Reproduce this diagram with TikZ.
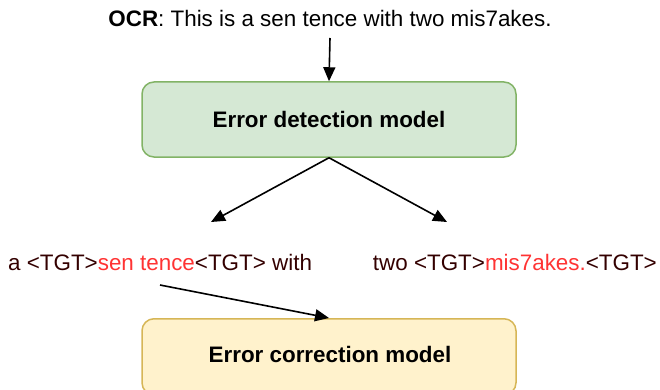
\documentclass[tikz,border=0pt]{standalone}
\usepackage{fontspec}
\setmainfont{Liberation Sans}
\usetikzlibrary{arrows.meta}
\definecolor{detfill}{HTML}{D5E8D4}
\definecolor{detline}{HTML}{82B366}
\definecolor{corfill}{HTML}{FFF2CC}
\definecolor{corline}{HTML}{D6B656}
\definecolor{errred}{HTML}{FF3333}
\definecolor{darktxt}{HTML}{330000}
\tikzset{
  model/.style={draw, line width=1.5pt, rounded corners=12pt, minimum width=374pt,
    font=\fontsize{22.4}{26}\selectfont\bfseries, inner sep=0pt},
  plain/.style={font=\fontsize{22.4}{26}\selectfont, inner sep=0pt},
  flow/.style={line width=1.6pt, -{Triangle[length=14pt,width=12pt]}}
}
\begin{document}
\begin{tikzpicture}[x=1pt,y=-1pt]
  \useasboundingbox (0,0) rectangle (660,390);
  \node[plain] (ocr) at (330,18) {\textbf{OCR}: This is a sen tence with two mis7akes.};
  \coordinate (ocrend) at (330,38);
  \node[model, fill=detfill, draw=detline, minimum height=75pt] (det) at (329,119.5) {Error detection model};
  \coordinate (tipL) at (211,222);
  \coordinate (tipR) at (447,222);
  \node[plain, text=darktxt, anchor=west] (left) at (8,262) {a <TGT>\textcolor{errred}{sen tence}<TGT> with};
  \node[plain, text=darktxt, anchor=east] (right) at (657,262) {two <TGT>\textcolor{errred}{mis7akes.}<TGT>};
  \node[model, fill=corfill, draw=corline, minimum height=76pt, anchor=north] (cor) at (329,318) {};
  \node[font=\fontsize{22.4}{26}\selectfont\bfseries] (cortext) at (330,354) {Error correction model};
  \coordinate (fromL) at (160,285);
  \draw[flow] (ocrend) -- (det.north);
  \draw[flow] (det.south) -- (tipL);
  \draw[flow] (det.south) -- (tipR);
  \draw[flow] (fromL) -- (cor.north);
\end{tikzpicture}
\end{document}
